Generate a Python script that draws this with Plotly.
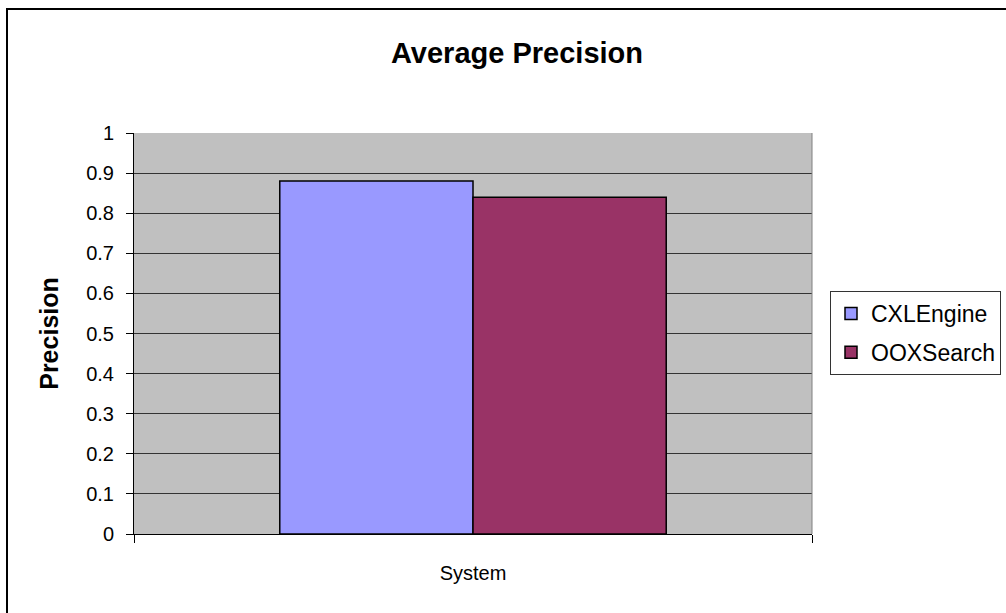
import plotly.graph_objects as go

# Chart data
categories = ["System"]
series_names = ["CXLEngine", "OOXSearch"]
series_values = [[0.88], [0.84]]
series_colors = ["#9999FF", "#993366"]
y_ticks = [0, 0.1, 0.2, 0.3, 0.4, 0.5, 0.6, 0.7, 0.8, 0.9, 1]
y_tick_labels = ["0", "0.1", "0.2", "0.3", "0.4", "0.5", "0.6", "0.7", "0.8", "0.9", "1"]

FONT = "Arial, Liberation Sans, sans-serif"

fig = go.Figure()
for name, vals, color in zip(series_names, series_values, series_colors):
    fig.add_trace(go.Bar(
        x=categories, y=vals, name=name, legendgroup=name,
        marker=dict(color=color, line=dict(color="#000000", width=1.5)),
    ))

W, H = 1006, 613
L, R, T, B = 134, 194, 133, 79
pw, ph = W - L - R, H - T - B

def px_x(p):
    return (p - L) / pw

def px_y(p):
    return (H - B - p) / ph

fig.update_layout(
    width=W, height=H,
    margin=dict(l=L, r=R, t=T, b=B, pad=0, autoexpand=False),
    paper_bgcolor="#FFFFFF",
    plot_bgcolor="#C0C0C0",
    barmode="group", bargap=0.43, bargroupgap=0,
    font=dict(family=FONT, color="#000000", size=20),
    title=dict(text="<b>Average Precision</b>", font=dict(size=29, family=FONT),
               x=517 / W, xref="container", xanchor="center",
               y=1 - 53 / H, yref="container", yanchor="middle"),
    showlegend=True,
    legend=dict(
        x=830 / W, y=1 - 291 / H, xref="container", yref="container",
        xanchor="left", yanchor="top",
        bgcolor="#FFFFFF", bordercolor="#333333", borderwidth=1,
        font=dict(size=23, family=FONT), tracegroupgap=6,
    ),
    xaxis=dict(
        showgrid=False, zeroline=False, showline=True, linecolor="#000000", linewidth=1,
        ticks="outside", tickson="boundaries", ticklen=8, tickcolor="#000000",
        tickfont=dict(size=20), ticklabelstandoff=21,
    ),
    yaxis=dict(
        range=[0, 1], tickvals=y_ticks, ticktext=y_tick_labels,
        showgrid=True, gridcolor="#333333", gridwidth=1,
        zeroline=False, showline=True, linecolor="#000000", linewidth=1,
        ticks="outside", ticklen=7, tickcolor="#000000",
        tickfont=dict(size=20), ticklabelstandoff=8,
        title=dict(text="<b>Precision</b>", font=dict(size=25), standoff=20),
    ),
)

# Plot-area right border
fig.add_shape(type="line", xref="paper", yref="paper", x0=1, x1=1, y0=0, y1=1,
              line=dict(color="#808080", width=1))
# Chart outer border (left and top edges)
fig.add_shape(type="path", xref="paper", yref="paper",
              path=f"M {px_x(7)},{px_y(640)} L {px_x(7)},{px_y(9)} L {px_x(1030)},{px_y(9)}",
              line=dict(color="#000000", width=2))

fig.write_html("out.html")
